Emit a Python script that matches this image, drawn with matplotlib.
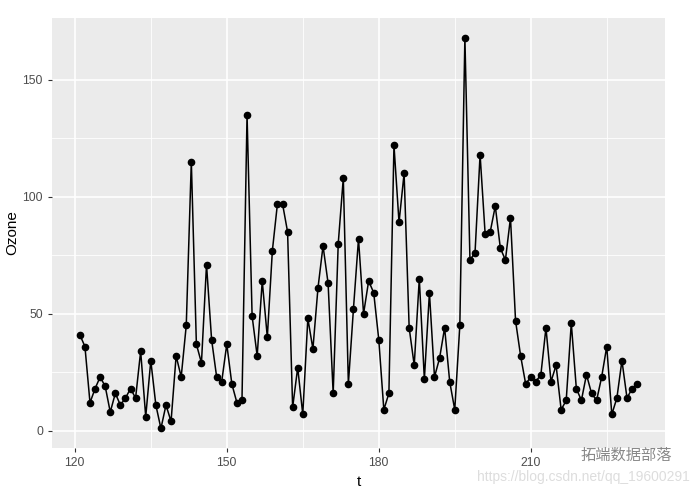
import matplotlib.pyplot as plt
import numpy as np

# Ozone readings, t = 121..231
t = np.arange(121, 232)
ozone = [41, 36, 12, 18, 23, 19, 8, 16, 11, 14, 18, 14, 34, 6, 30, 11, 1, 11, 4, 32,
         23, 45, 115, 37, 29, 71, 39, 23, 21, 37, 20, 12, 13, 135, 49, 32, 64, 40, 77, 97,
         97, 85, 10, 27, 7, 48, 35, 61, 79, 63, 16, 80, 108, 20, 52, 82, 50, 64, 59, 39,
         9, 16, 122, 89, 110, 44, 28, 65, 22, 59, 23, 31, 44, 21, 9, 45, 168, 73, 76, 118,
         84, 85, 96, 78, 73, 91, 47, 32, 20, 23, 21, 24, 44, 21, 28, 9, 13, 46, 18, 13,
         24, 16, 13, 23, 36, 7, 14, 30, 14, 18, 20]
x_ticks = [120, 150, 180, 210]
x_minor = [135, 165, 195, 225]
y_ticks = [0, 50, 100, 150]
y_minor = [25, 75, 125]

plt.rcParams['font.family'] = ['Liberation Sans', 'Noto Sans CJK SC', 'DejaVu Sans']

fig = plt.figure(figsize=(6.96, 4.9), dpi=100)
ax = fig.add_axes([52 / 696, 1 - 448 / 490, (665 - 52) / 696, (448 - 18) / 490])
ax.set_facecolor('#EBEBEB')
for s in ax.spines.values():
    s.set_visible(False)

# ggplot-like grid
for v in x_minor:
    ax.axvline(v, color='white', linewidth=0.6, zorder=0)
for v in y_minor:
    ax.axhline(v, color='white', linewidth=0.6, zorder=0)
for v in x_ticks:
    ax.axvline(v, color='white', linewidth=1.2, zorder=0)
for v in y_ticks:
    ax.axhline(v, color='white', linewidth=1.2, zorder=0)

ax.plot(t, ozone, color='black', linewidth=1.1, marker='o', markersize=4.5, zorder=3)

xr = t.max() - t.min()
ax.set_xlim(t.min() - 0.05 * xr, t.max() + 0.05 * xr)
yr = max(ozone) - min(ozone)
ax.set_ylim(min(ozone) - 0.05 * yr, max(ozone) + 0.05 * yr)
ax.set_xticks(x_ticks)
ax.set_yticks(y_ticks)
ax.tick_params(colors='#333333', labelcolor='#4D4D4D', labelsize=8.8, length=3, width=0.8)
ax.set_xlabel('t', fontsize=11, labelpad=4)
ax.set_ylabel('Ozone', fontsize=11, labelpad=2)

# watermark
fig.text(690 / 696, 1 - 477 / 490, 'https://blog.csdn.net/qq_19600291', ha='right', va='center',
         fontsize=10, color='#DDDDDD')
fig.text(672 / 696, 1 - 456 / 490, '拓端数据部落', ha='right', va='center',
         fontsize=11, color='#888888')

fig.savefig('out.png', dpi=100)
